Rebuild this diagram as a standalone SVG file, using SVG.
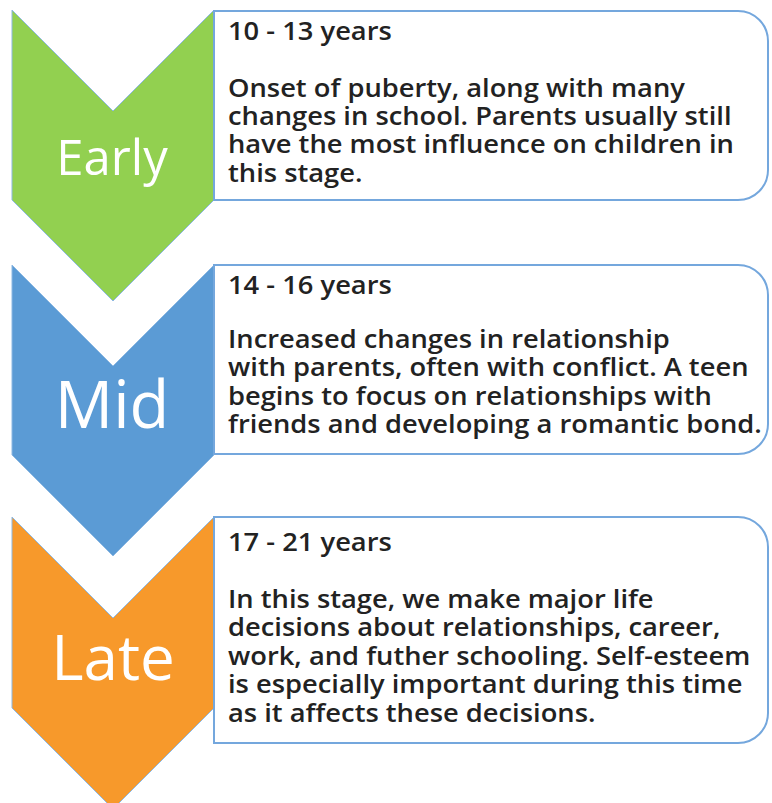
<svg xmlns="http://www.w3.org/2000/svg" width="772" height="803" viewBox="0 0 772 803">
<style>
.chev{stroke:#8DB8E2;stroke-width:1}
.box{fill:#ffffff;stroke:#74A7DD;stroke-width:2}
.lbl{font-family:"Open Sans","Liberation Sans",sans-serif;fill:#ffffff;text-anchor:middle;font-weight:400}
.txt{font-family:"Open Sans","Liberation Sans",sans-serif;font-size:25px;fill:#222222;font-weight:600}
</style>
<rect width="772" height="803" fill="#ffffff"/>
<g id="early">
<polygon class="chev" fill="#92D050" points="12,10 113,111 214,10 214,200 113,301 12,200"/>
<text class="lbl" x="112" y="175" font-size="49">Early</text>
<path class="box" d="M214,11 H738 A30,30 0 0 1 768,41 V170 A30,30 0 0 1 738,200 H214 Z"/>
<g transform="translate(228,0) scale(1.093,1)">
<text class="txt" x="0" y="40">10 - 13 years</text>
<text class="txt" x="0" y="97">Onset of puberty, along with many</text>
<text class="txt" x="0" y="125">changes in school. Parents usually still</text>
<text class="txt" x="0" y="153.5">have the most influence on children in</text>
<text class="txt" x="0" y="182">this stage.</text>
</g>
</g>
<g id="mid">
<polygon class="chev" fill="#5B9BD5" points="12,265 113,366 214,265 214,455 113,556 12,455"/>
<text class="lbl" x="112" y="428" font-size="65">Mid</text>
<path class="box" d="M214,265 H738 A30,30 0 0 1 768,295 V424 A30,30 0 0 1 738,454 H214 Z"/>
<g transform="translate(228,0) scale(1.093,1)">
<text class="txt" x="0" y="294">14 - 16 years</text>
<text class="txt" x="0" y="348">Increased changes in relationship</text>
<text class="txt" x="0" y="376.5">with parents, often with conflict. A teen</text>
<text class="txt" x="0" y="405">begins to focus on relationships with</text>
<text class="txt" x="0" y="433.5">friends and developing a romantic bond.</text>
</g>
</g>
<g id="late">
<polygon class="chev" fill="#F7992B" points="12,517 113,618 214,517 214,708 113,809 12,708"/>
<text class="lbl" x="113" y="680" font-size="62">Late</text>
<path class="box" d="M214,517 H738 A30,30 0 0 1 768,547 V713 A30,30 0 0 1 738,743 H214 Z"/>
<g transform="translate(228,0) scale(1.093,1)">
<text class="txt" x="0" y="551">17 - 21 years</text>
<text class="txt" x="0" y="608">In this stage, we make major life</text>
<text class="txt" x="0" y="636.5">decisions about relationships, career,</text>
<text class="txt" x="0" y="665">work, and futher schooling. Self-esteem</text>
<text class="txt" x="0" y="693.5">is especially important during this time</text>
<text class="txt" x="0" y="722">as it affects these decisions.</text>
</g>
</g>
<g id="connectors"></g>
</svg>
